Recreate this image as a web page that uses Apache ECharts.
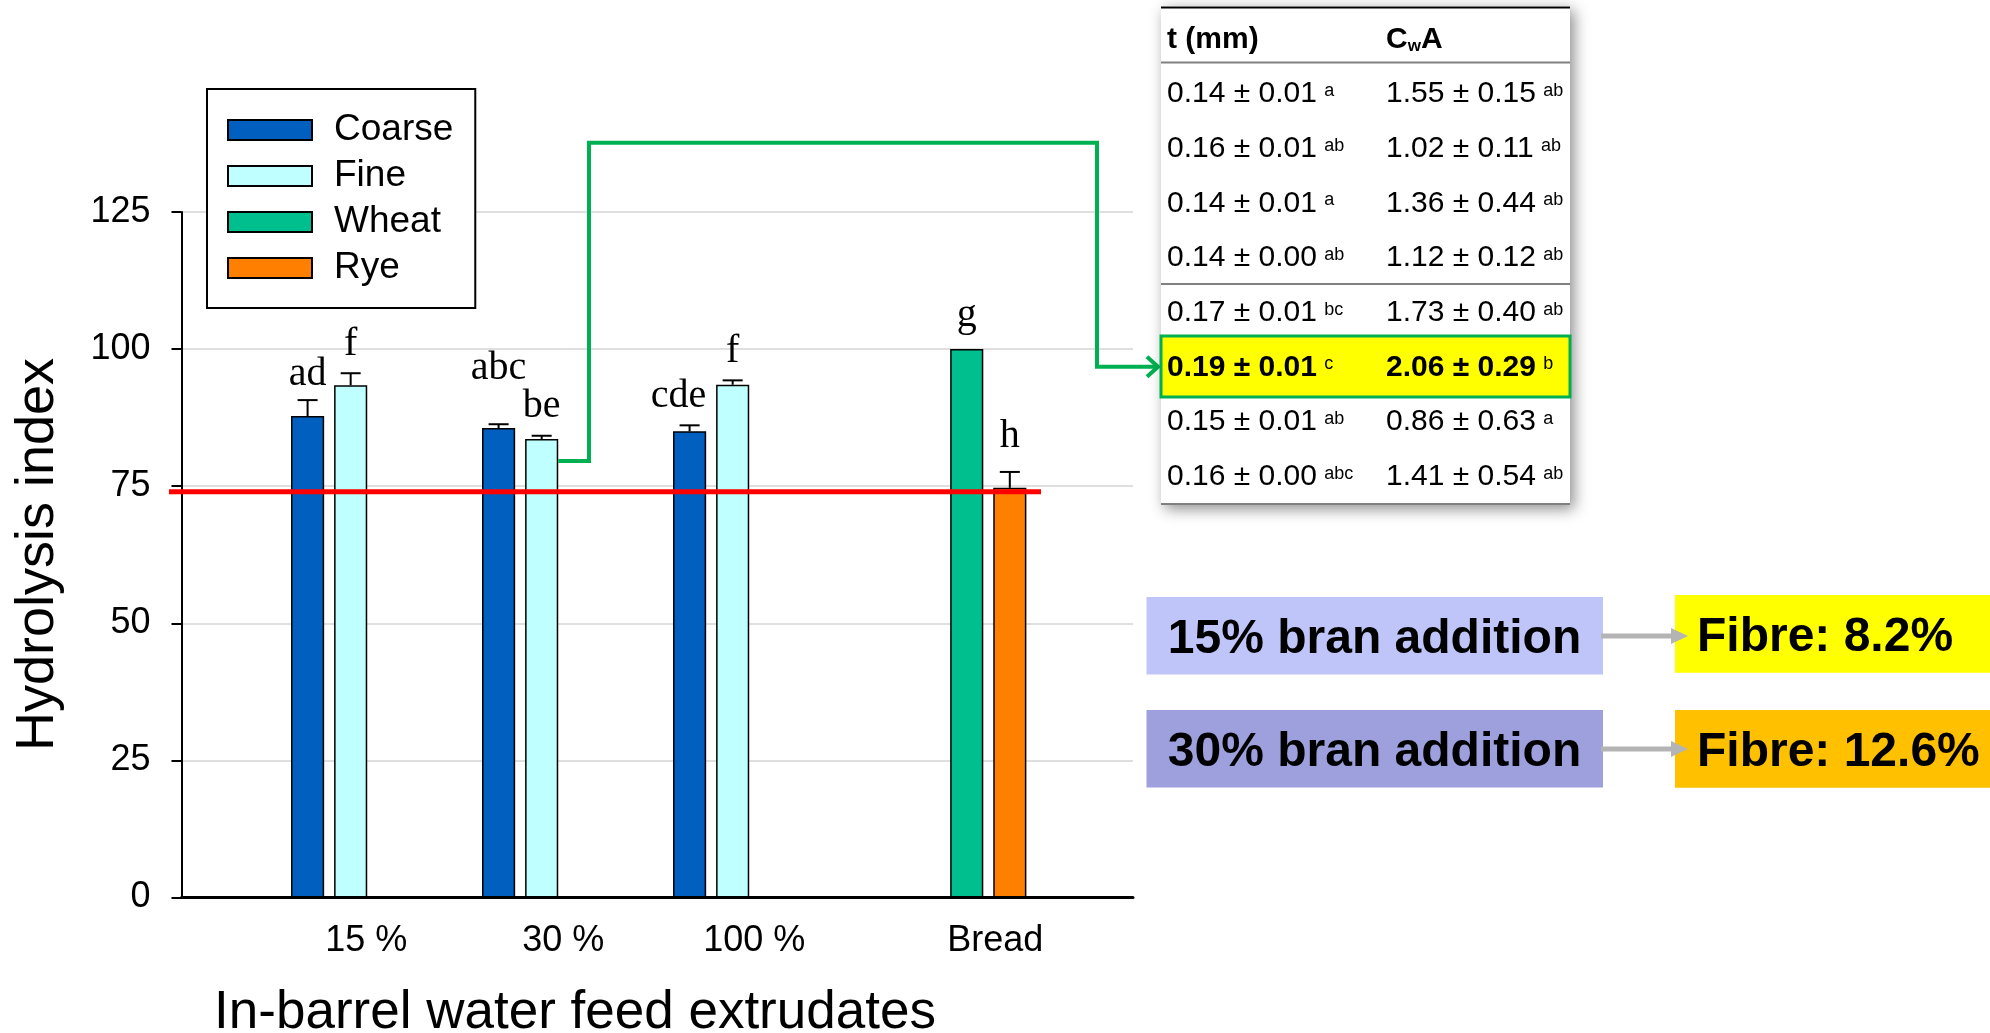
<!DOCTYPE html>
<html>
<head>
<meta charset="utf-8">
<title>Hydrolysis index of extrudates and breads</title>
<script src="https://cdn.jsdelivr.net/npm/echarts@6/dist/echarts.min.js"></script>
<style>
  html, body { margin: 0; padding: 0; background: #ffffff; }
  #chart { width: 1990px; height: 1033px; }
</style>
</head>
<body>
<div id="chart"></div>
<script>
// ---- chart data -------------------------------------------------------
const categories = ['15 %', '30 %', '100 %', 'Bread'];
const seriesNames = ['Coarse', 'Fine', 'Wheat', 'Rye'];

const coarseMean = [87.8, 85.6, 85.0, null];
const coarseErr = [2.9, 0.7, 1.1, null];
const coarseLetters = ['ad', 'abc', 'cde', null];

const fineMean = [93.4, 83.6, 93.5, null];
const fineErr = [2.2, 0.6, 0.8, null];
const fineLetters = ['f', 'be', 'f', null];

const wheatMean = [null, null, null, 100];
const wheatErr = [null, null, null, 0];
const wheatLetters = [null, null, null, 'g'];

const ryeMean = [null, null, null, 74.7];
const ryeErr = [null, null, null, 2.9];
const ryeLetters = [null, null, null, 'h'];

const referenceLevel = 74;
const yMin = 0, yMax = 125, yStep = 25;

// thickness / CwA table
const tableHeader = ['t (mm)', 'CwA'];
const thickness = ['0.14 ± 0.01', '0.16 ± 0.01', '0.14 ± 0.01', '0.14 ± 0.00',
                   '0.17 ± 0.01', '0.19 ± 0.01', '0.15 ± 0.01', '0.16 ± 0.00'];
const thicknessLetters = ['a', 'ab', 'a', 'ab', 'bc', 'c', 'ab', 'abc'];
const cwa = ['1.55 ± 0.15', '1.02 ± 0.11', '1.36 ± 0.44', '1.12 ± 0.12',
             '1.73 ± 0.40', '2.06 ± 0.29', '0.86 ± 0.63', '1.41 ± 0.54'];
const cwaLetters = ['ab', 'ab', 'ab', 'ab', 'ab', 'b', 'a', 'ab'];
const highlightRow = 5;

const branLabels = ['15% bran addition', '30% bran addition'];
const fibreLabels = ['Fibre: 8.2%', 'Fibre: 12.6%'];

// ---- styling ----------------------------------------------------------
const SANS = '"Liberation Sans", Arial, sans-serif';
const SERIF = '"Liberation Serif", "Times New Roman", serif';
const colors = ['#005fbf', '#bfffff', '#00bf8f', '#ff8000'];
const CAT_GAP = 0.15;   // barCategoryGap
const BAR_GAP = 0.30;   // barGap
const LETTER_GAP = 9;
const letterNudge = {
  '15 %|Coarse': [0, 3],
  '30 %|Coarse': [0, -27],
  '100 %|Coarse': [-11, 0],
  'Bread|Wheat': [0, -5],
  'Bread|Rye': [0, -6]
};
const labelPad = { '15 %': [0, 12, 0, 0], 'Bread': [0, 0, 0, 100] };

// plot areas
const TOP = 212, BOTTOM = 135.5;
const outer = { left: 181.5, right: 857 };
const inner = { left: 276.7, right: 949.3 };
const refLine = { left: 169, right: 949 };

const means = [coarseMean, fineMean, wheatMean, ryeMean];
const errs = [coarseErr, fineErr, wheatErr, ryeErr];
const letters = [coarseLetters, fineLetters, wheatLetters, ryeLetters];

function slotGeometry(band, slot) {
  const bw = band * (1 - CAT_GAP) / (4 + 3 * BAR_GAP);
  return { bw: bw, offset: (slot - 1.5) * bw * (1 + BAR_GAP) };
}

const barSeries = seriesNames.map((name, s) => ({
  name: name,
  type: 'bar',
  xAxisIndex: 0, yAxisIndex: 0,
  data: means[s],
  barGap: (BAR_GAP * 100) + '%',
  barCategoryGap: (CAT_GAP * 100) + '%',
  itemStyle: { color: colors[s], borderColor: '#000', borderWidth: 1.5 },
  z: 3
}));

const errSeries = seriesNames.map((name, s) => ({
  name: name + ' error',
  type: 'custom',
  xAxisIndex: 0, yAxisIndex: 0,
  z: 4,
  silent: true,
  data: means[s].map((m, i) => [i, m, errs[s][i]]).filter(d => d[1] != null),
  renderItem: function (params, api) {
    const ci = api.value(0), m = api.value(1), e = api.value(2);
    const band = api.size([1, 0])[0];
    const g = slotGeometry(band, s);
    const base = api.coord([ci, m]);
    const cx = base[0] + g.offset;
    const yTop = base[1];
    const yErr = api.coord([ci, m + e])[1];
    const children = [];
    if (e > 0) {
      children.push({ type: 'line', shape: { x1: cx, y1: yTop, x2: cx, y2: yErr },
                      style: { stroke: '#000', lineWidth: 2 } });
      children.push({ type: 'line', shape: { x1: cx - 10, y1: yErr, x2: cx + 10, y2: yErr },
                      style: { stroke: '#000', lineWidth: 2 } });
    }
    const txt = letters[s][ci];
    if (txt) {
      const nd = letterNudge[categories[ci] + '|' + name] || [0, 0];
      children.push({
        type: 'text', x: cx + nd[0], y: yErr - LETTER_GAP + nd[1],
        style: { text: txt, font: '40px ' + SERIF, fill: '#000',
                 align: 'center', verticalAlign: 'bottom' }
      });
    }
    return { type: 'group', children: children };
  }
}));

const rich = {};
categories.forEach((c, i) => {
  rich['c' + i] = { fontSize: 36, fontFamily: SANS, color: '#000',
                    padding: labelPad[c] || [0, 0, 0, 0] };
});

const option = {
  animation: false,
  backgroundColor: '#ffffff',
  legend: {
    data: seriesNames,
    orient: 'vertical',
    left: 207, top: 89,
    icon: 'rect',
    itemWidth: 84, itemHeight: 20, itemGap: 6,
    padding: [21, 22, 20, 20],
    backgroundColor: '#ffffff',
    borderColor: '#000', borderWidth: 2,
    itemStyle: { borderColor: '#000', borderWidth: 2 },
    textStyle: { fontSize: 37, fontFamily: SANS, color: '#000', lineHeight: 40,
                 padding: [0, 0, 0, 17] },
    selectedMode: false
  },
  grid: [
    { left: inner.left, right: inner.right, top: TOP, bottom: BOTTOM },
    { left: outer.left, right: outer.right, top: TOP, bottom: BOTTOM },
    { left: refLine.left, right: refLine.right, top: TOP, bottom: BOTTOM }
  ],
  xAxis: [
    {
      type: 'category', gridIndex: 0, data: categories,
      axisLine: { show: false }, axisTick: { show: false },
      axisLabel: {
        margin: 26,
        formatter: function (v) { return '{c' + categories.indexOf(v) + '|' + v + '}'; },
        rich: rich
      }
    },
    {
      type: 'value', gridIndex: 1, min: 0, max: 1,
      axisLine: { show: true, onZero: false, lineStyle: { color: '#000', width: 3 } },
      axisTick: { show: false }, axisLabel: { show: false }, splitLine: { show: false }
    },
    {
      type: 'value', gridIndex: 2, min: 0, max: 1, show: false
    }
  ],
  yAxis: [
    { type: 'value', gridIndex: 0, min: yMin, max: yMax, interval: yStep, show: false },
    {
      type: 'value', gridIndex: 1, min: yMin, max: yMax, interval: yStep,
      axisLine: { show: true, lineStyle: { color: '#000', width: 2 } },
      axisTick: { show: true, length: 10, lineStyle: { color: '#000', width: 2 } },
      axisLabel: { fontSize: 36, fontFamily: SANS, color: '#000', margin: 31 },
      splitLine: { show: true, lineStyle: { color: '#d4d4d4', width: 1.5 } }
    },
    { type: 'value', gridIndex: 2, min: yMin, max: yMax, show: false }
  ],
  series: barSeries.concat(errSeries).concat([{
    name: 'Reference',
    type: 'line',
    xAxisIndex: 2, yAxisIndex: 2,
    data: [[0, referenceLevel], [1, referenceLevel]],
    symbol: 'none',
    lineStyle: { color: '#ff0000', width: 5 },
    z: 5, silent: true
  }])
};

const chart = echarts.init(document.getElementById('chart'), null, { renderer: 'canvas' });
chart.setOption(option);

// ---- annotations: table, connector, bran boxes ------------------------
const TBL = { x: 1161, y: 6, w: 409, h: 499 };
const col1 = 1167, col2 = 1386;
const rowTop = 94, rowPitch = 54.7;
const GREEN = '#00b050';

const graphics = [];

graphics.push({
  type: 'rect', z: 10,
  shape: { x: TBL.x, y: TBL.y, width: TBL.w, height: TBL.h },
  style: { fill: '#fff', shadowBlur: 14, shadowColor: 'rgba(0,0,0,0.45)',
           shadowOffsetX: 4, shadowOffsetY: 4 }
});
graphics.push({ type: 'line', z: 11, shape: { x1: TBL.x, y1: 7.5, x2: TBL.x + TBL.w, y2: 7.5 },
                style: { stroke: '#000', lineWidth: 2 } });
graphics.push({ type: 'line', z: 11, shape: { x1: TBL.x, y1: 62.5, x2: TBL.x + TBL.w, y2: 62.5 },
                style: { stroke: '#808080', lineWidth: 2 } });
graphics.push({ type: 'line', z: 11, shape: { x1: TBL.x, y1: 284, x2: TBL.x + TBL.w, y2: 284 },
                style: { stroke: '#808080', lineWidth: 2 } });
graphics.push({ type: 'line', z: 11, shape: { x1: TBL.x, y1: 504, x2: TBL.x + TBL.w, y2: 504 },
                style: { stroke: '#808080', lineWidth: 2 } });

// highlighted row
graphics.push({
  type: 'rect', z: 11,
  shape: { x: TBL.x, y: 336, width: TBL.w, height: 61 },
  style: { fill: '#ffff00', stroke: GREEN, lineWidth: 3 }
});

const cellRich = {
  m: { fontSize: 30, fontFamily: SANS, color: '#000' },
  mb: { fontSize: 30, fontFamily: SANS, color: '#000', fontWeight: 'bold' },
  s: { fontSize: 18, fontFamily: SANS, color: '#000', verticalAlign: 'top', padding: [3, 0, 0, 4] },
  h: { fontSize: 30, fontFamily: SANS, color: '#000', fontWeight: 'bold' },
  sub: { fontSize: 17, fontFamily: SANS, color: '#000', fontWeight: 'bold', verticalAlign: 'bottom' }
};

graphics.push({ type: 'text', z: 12, x: col1, y: 40,
  style: { text: '{h|' + tableHeader[0] + '}', rich: cellRich, verticalAlign: 'middle' } });
graphics.push({ type: 'text', z: 12, x: col2, y: 40,
  style: { text: '{h|C}{sub|w}{h|A}', rich: cellRich, verticalAlign: 'middle' } });

thickness.forEach((t, i) => {
  const y = rowTop + i * rowPitch;
  const k = i === highlightRow ? 'mb' : 'm';
  graphics.push({ type: 'text', z: 12, x: col1, y: y,
    style: { text: '{' + k + '|' + t + '} {s|' + thicknessLetters[i] + '}', rich: cellRich,
             verticalAlign: 'middle' } });
  graphics.push({ type: 'text', z: 12, x: col2, y: y,
    style: { text: '{' + k + '|' + cwa[i] + '} {s|' + cwaLetters[i] + '}', rich: cellRich,
             verticalAlign: 'middle' } });
});

// connector from the 30 % fine bar to the highlighted row
const catPx = chart.convertToPixel({ gridIndex: 0 }, [1, 79.6]);
const band = (1990 - inner.left - inner.right) / categories.length;
const gFine = slotGeometry(band, 1);
const sx = catPx[0] + gFine.offset + gFine.bw / 2;
const sy = catPx[1];
const ay0 = 366.7;
graphics.push({
  type: 'polyline', z: 6,
  shape: { points: [[sx, sy], [589, sy], [589, 142.7], [1097, 142.7], [1097, ay0], [1158, ay0]] },
  style: { stroke: GREEN, lineWidth: 4, fill: null, lineJoin: 'miter' }
});
graphics.push({
  type: 'polyline', z: 6,
  shape: { points: [[1147, ay0 - 10], [1158, ay0], [1147, ay0 + 10]] },
  style: { stroke: GREEN, lineWidth: 4, fill: null }
});

// bran addition boxes
const branFill = ['#bfc5f8', '#9ea0de'];
const fibreFill = ['#ffff00', '#ffc000'];
const boxY = [597, 710];
const fibreY = [595, 710];
branLabels.forEach((lbl, i) => {
  graphics.push({ type: 'rect', z: 10,
    shape: { x: 1146.5, y: boxY[i], width: 456.5, height: 77.5 },
    style: { fill: branFill[i] } });
  graphics.push({ type: 'text', z: 11, x: 1374.5, y: boxY[i] + 43,
    style: { text: lbl, font: 'bold 48px ' + SANS, fill: '#000', align: 'center', verticalAlign: 'middle' } });
  const ay = boxY[i] + 39;
  graphics.push({ type: 'rect', z: 10,
    shape: { x: 1675, y: fibreY[i], width: 1990 - 1675, height: 77.7 },
    style: { fill: fibreFill[i] } });
  graphics.push({ type: 'line', z: 12, shape: { x1: 1601, y1: ay, x2: 1673, y2: ay },
    style: { stroke: '#b4b4b4', lineWidth: 5 } });
  graphics.push({ type: 'polygon', z: 12, shape: { points: [[1671, ay - 8], [1688, ay], [1671, ay + 8]] },
    style: { fill: '#b4b4b4' } });
  graphics.push({ type: 'text', z: 13, x: 1697, y: fibreY[i] + 43,
    style: { text: fibreLabels[i], font: 'bold 48px ' + SANS, fill: '#000', align: 'left', verticalAlign: 'middle' } });
});

// axis titles
graphics.push({ type: 'text', z: 5, x: 38, y: 554.5, rotation: Math.PI / 2,
  style: { text: 'Hydrolysis index', font: '54px ' + SANS, fill: '#000', align: 'center', verticalAlign: 'middle' } });
graphics.push({ type: 'text', z: 5, x: 575, y: 1013,
  style: { text: 'In-barrel water feed extrudates', font: '53px ' + SANS, fill: '#000', align: 'center', verticalAlign: 'middle' } });

chart.setOption({ graphic: { elements: graphics } });
</script>
</body>
</html>
